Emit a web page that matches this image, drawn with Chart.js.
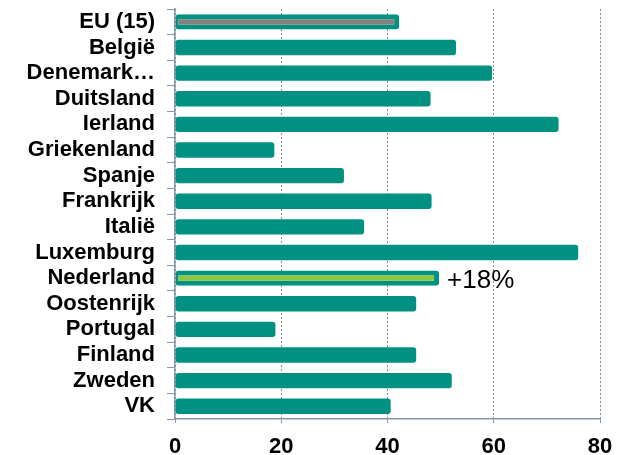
<!DOCTYPE html>
<html>
<head>
<meta charset="utf-8">
<script src="https://cdn.jsdelivr.net/npm/chart.js@4/dist/chart.umd.min.js"></script>
<style>
  html, body { margin: 0; padding: 0; background: #ffffff; }
  #wrap { width: 624px; height: 455px; position: relative; }
</style>
</head>
<body>
<div id="wrap"><canvas id="c" width="624" height="455"></canvas></div>
<script>
const categories = ['EU (15)', 'België', 'Denemark…', 'Duitsland', 'Ierland', 'Griekenland', 'Spanje', 'Frankrijk', 'Italië', 'Luxemburg', 'Nederland', 'Oostenrijk', 'Portugal', 'Finland', 'Zweden', 'VK'];
const values = [42.2, 52.9, 59.7, 48.1, 72.2, 18.7, 31.8, 48.3, 35.6, 75.9, 49.7, 45.4, 18.9, 45.4, 52.1, 40.6];
const xTicks = [0, 20, 40, 60, 80];
const highlightCategories = ['EU (15)', 'Nederland'];
const highlightColors = ['#808080', '#8dc63f'];
const annotationCategories = ['Nederland'];
const annotationTexts = ['+18%'];

const TEAL = '#009182';
const fillColors = categories.map(c => {
  const i = highlightCategories.indexOf(c);
  return i >= 0 ? highlightColors[i] : TEAL;
});
const borderWidths = categories.map(c => highlightCategories.includes(c) ? {top: 5, bottom: 5, left: 3, right: 5} : 0);

const annotationPlugin = {
  id: 'annot',
  afterDatasetsDraw(chart) {
    const ctx = chart.ctx;
    const meta = chart.getDatasetMeta(0);
    ctx.save();
    ctx.font = '26px "Liberation Sans", Arial, sans-serif';
    ctx.fillStyle = '#000000';
    ctx.textAlign = 'left';
    ctx.textBaseline = 'middle';
    annotationCategories.forEach((c, k) => {
      const idx = categories.indexOf(c);
      const el = meta.data[idx];
      ctx.fillText(annotationTexts[k], el.x + 8, el.y + 3);
    });
    ctx.restore();
  }
};

new Chart(document.getElementById('c'), {
  type: 'bar',
  data: {
    labels: categories,
    datasets: [{
      data: values,
      backgroundColor: fillColors,
      borderColor: TEAL,
      borderWidth: borderWidths,
      borderSkipped: false,
      borderRadius: 3,
      barPercentage: 0.6,
      categoryPercentage: 1.0
    }]
  },
  options: {
    indexAxis: 'y',
    responsive: false,
    animation: false,
    events: [],
    layout: { padding: { top: 9, right: 24, bottom: 0, left: 0 } },
    plugins: {
      legend: { display: false },
      tooltip: { enabled: false }
    },
    scales: {
      x: {
        min: 0,
        max: 80,
        afterBuildTicks(scale) { scale.ticks = xTicks.map(v => ({ value: v })); },
        afterFit(scale) { scale.height = 36; scale.paddingLeft = 0; scale.paddingRight = 0; },
        grid: {
          color: '#8a8a8a',
          lineWidth: 1,
          drawTicks: true,
          tickLength: 4,
          tickColor: '#8a96a3'
        },
        border: { display: true, color: '#8a96a3', width: 1.5, dash: [2, 2] },
        ticks: {
          color: '#000000',
          padding: 11,
          font: { family: '"Liberation Sans", Arial, sans-serif', size: 22, weight: 'bold', lineHeight: 1.2 }
        }
      },
      y: {
        afterFit(scale) { scale.width = 175; scale.paddingTop = 0; scale.paddingBottom = 0; },
        grid: {
          display: true,
          drawOnChartArea: false,
          drawTicks: true,
          tickLength: 8,
          tickColor: '#8a96a3',
          offset: true
        },
        border: { display: true, color: '#8a96a3', width: 1.5 },
        ticks: {
          color: '#000000',
          padding: 12,
          autoSkip: false,
          font: { family: '"Liberation Sans", Arial, sans-serif', size: 22, weight: 'bold', lineHeight: 1.0 }
        }
      }
    }
  },
  plugins: [annotationPlugin]
});
</script>
</body>
</html>
